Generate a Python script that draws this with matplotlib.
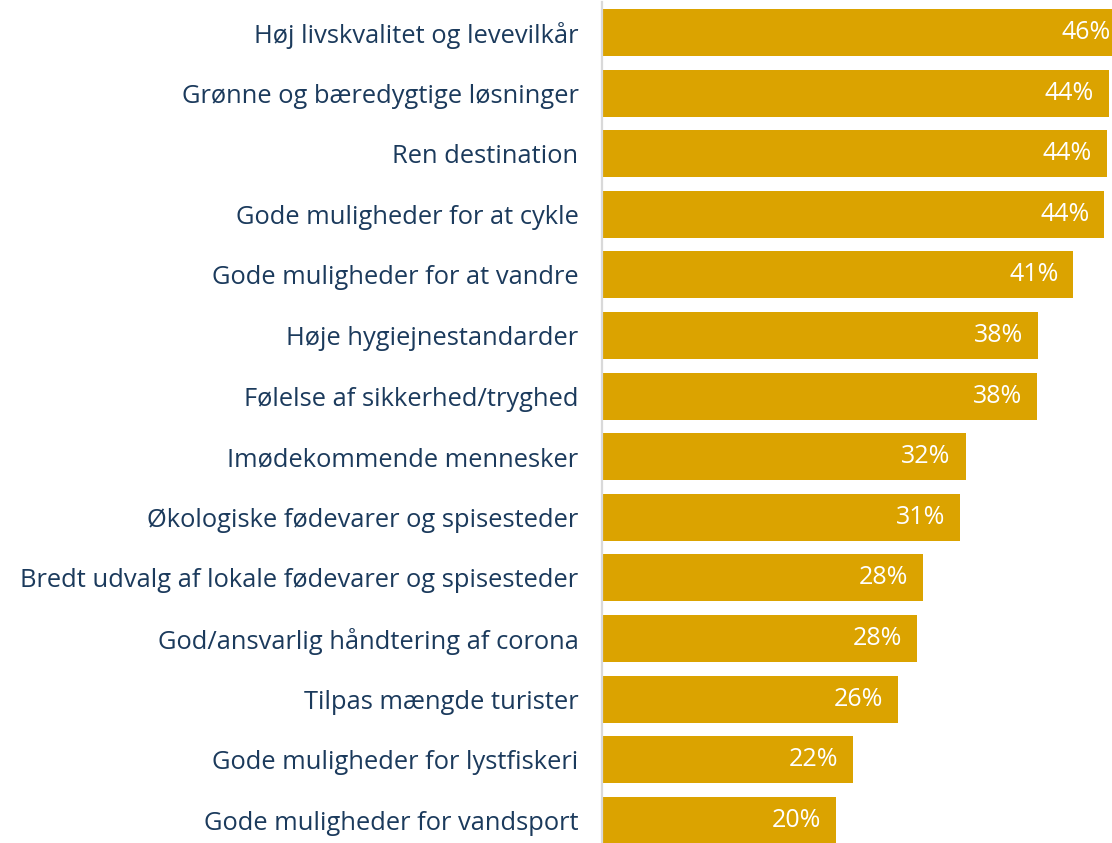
import matplotlib
matplotlib.use("Agg")
import matplotlib.pyplot as plt

categories = [
    "Høj livskvalitet og levevilkår",
    "Grønne og bæredygtige løsninger",
    "Ren destination",
    "Gode muligheder for at cykle",
    "Gode muligheder for at vandre",
    "Høje hygiejnestandarder",
    "Følelse af sikkerhed/tryghed",
    "Imødekommende mennesker",
    "Økologiske fødevarer og spisesteder",
    "Bredt udvalg af lokale fødevarer og spisesteder",
    "God/ansvarlig håndtering af corona",
    "Tilpas mængde turister",
    "Gode muligheder for lystfiskeri",
    "Gode muligheder for vandsport",
]
values = [46.0, 44.2, 44.0, 43.8, 41.1, 38.0, 37.9, 31.7, 31.2, 28.0, 27.5, 25.8, 21.9, 20.4]
value_labels = ["46%", "44%", "44%", "44%", "41%", "38%", "38%", "32%", "31%", "28%", "28%", "26%", "22%", "20%"]

bar_color = "#DBA300"
text_color = "#1B3A5C"
font = "Open Sans"

W, H = 1112, 843
fig = plt.figure(figsize=(W / 100, H / 100), dpi=100)
ax_left = 602 / W
ax = fig.add_axes([ax_left, 0, 1 - ax_left, 1 - 2 / H])

px_per_unit = 11.47
xmax = (W - 602) / px_per_unit
ax.set_xlim(0, xmax)
pitch = 60.6
ax.set_ylim((843 - 32.5) / pitch, -(32.5 - 2) / pitch)

y = list(range(len(categories)))
ax.barh(y, values, height=0.776, color=bar_color, zorder=2)

pad = 15 / px_per_unit
for yi, v, lab in zip(y, values, value_labels):
    xr = min(v - pad, xmax - 1.5 / px_per_unit)
    ax.text(xr, yi, lab, ha="right", va="center", color="white",
            fontsize=18, family=font)

ax.set_yticks(y)
ax.set_yticklabels(categories, fontsize=18.4, color=text_color, family=font)
ax.tick_params(axis="y", length=0, pad=17)
ax.set_xticks([])
for s in ["top", "right", "bottom"]:
    ax.spines[s].set_visible(False)
ax.spines["left"].set_color("#D9D9D9")
ax.spines["left"].set_linewidth(1.6)
ax.spines["left"].set_zorder(3)

fig.savefig("out.png", dpi=100)
